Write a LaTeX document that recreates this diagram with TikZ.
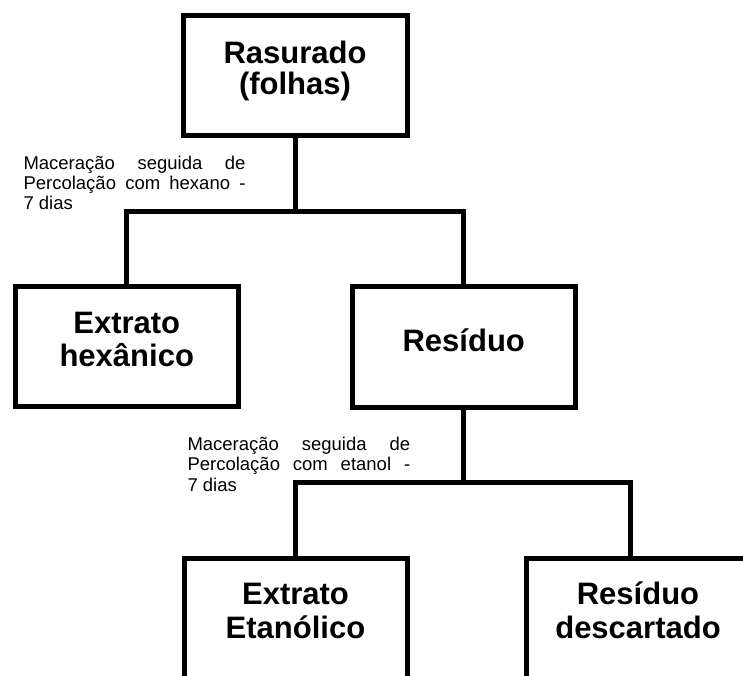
\documentclass[tikz,border=0pt]{standalone}
\usepackage{fontspec}
\setmainfont{Liberation Sans}
\begin{document}
\begin{tikzpicture}[x=1pt,y=1pt,
  boxnode/.style={draw, line width=5pt, inner sep=0pt, outer sep=0pt, minimum width=223pt, minimum height=120pt},
  bigtxt/.style={inner sep=0pt, anchor=base, font=\fontsize{31}{33}\selectfont\bfseries},
  smalltxt/.style={inner sep=0pt, anchor=base west, font=\fontsize{18.5}{20}\selectfont},
  conn/.style={line width=5pt}]
\useasboundingbox (0,0) rectangle (743,-675);
\clip (0,0) rectangle (743,-675);
% boxes
\node[boxnode, minimum width=224pt] (top) at (295.5,-75.25) {};
\node[boxnode] (hex) at (126.75,-346.5) {};
\node[boxnode, minimum width=223.5pt, minimum height=121pt] (res) at (463.75,-347) {};
\node[boxnode] (eta) at (295.5,-618.5) {};
\node[boxnode] (desc) at (638,-618.5) {};
% box texts
\node[bigtxt] (t1) at (295,-63.3) {Rasurado};
\node[bigtxt] (t2) at (295,-94.5) {(folhas)};
\node[bigtxt] (h1) at (126.75,-333.3) {Extrato};
\node[bigtxt] (h2) at (126.75,-366.7) {hexânico};
\node[bigtxt] (r1) at (463.75,-351) {Resíduo};
\node[bigtxt] (e1) at (295.5,-604) {Extrato};
\node[bigtxt] (e2) at (295.5,-638.3) {Etanólico};
\node[bigtxt] (d1) at (638,-604) {Resíduo};
\node[bigtxt] (d2) at (638,-638.3) {descartado};
% connectors
\coordinate (j1) at (295.5,-211);
\coordinate (j2) at (463,-482);
\coordinate (dtop) at (630.5,-558.5);
\draw[conn] (top.south) -- (j1);
\draw[conn] (hex.north) |- (j1) -| (res.north);
\draw[conn] (res.south -| j2) -- (j2);
\draw[conn] (eta.north) |- (j2) -| (dtop);
% annotations
\node[smalltxt] (a1) at (23.3,-169) {\makebox[222pt][s]{Maceração seguida de}};
\node[smalltxt] (a2) at (23.3,-189) {\makebox[222pt][s]{Percolação com hexano -}};
\node[smalltxt] (a3) at (23.3,-209) {7 dias};
\node[smalltxt] (b1) at (187.3,-450) {\makebox[222.7pt][s]{Maceração seguida de}};
\node[smalltxt] (b2) at (187.3,-470.5) {\makebox[222.7pt][s]{Percolação com etanol -}};
\node[smalltxt] (b3) at (187.3,-491) {7 dias};
\end{tikzpicture}
\end{document}
